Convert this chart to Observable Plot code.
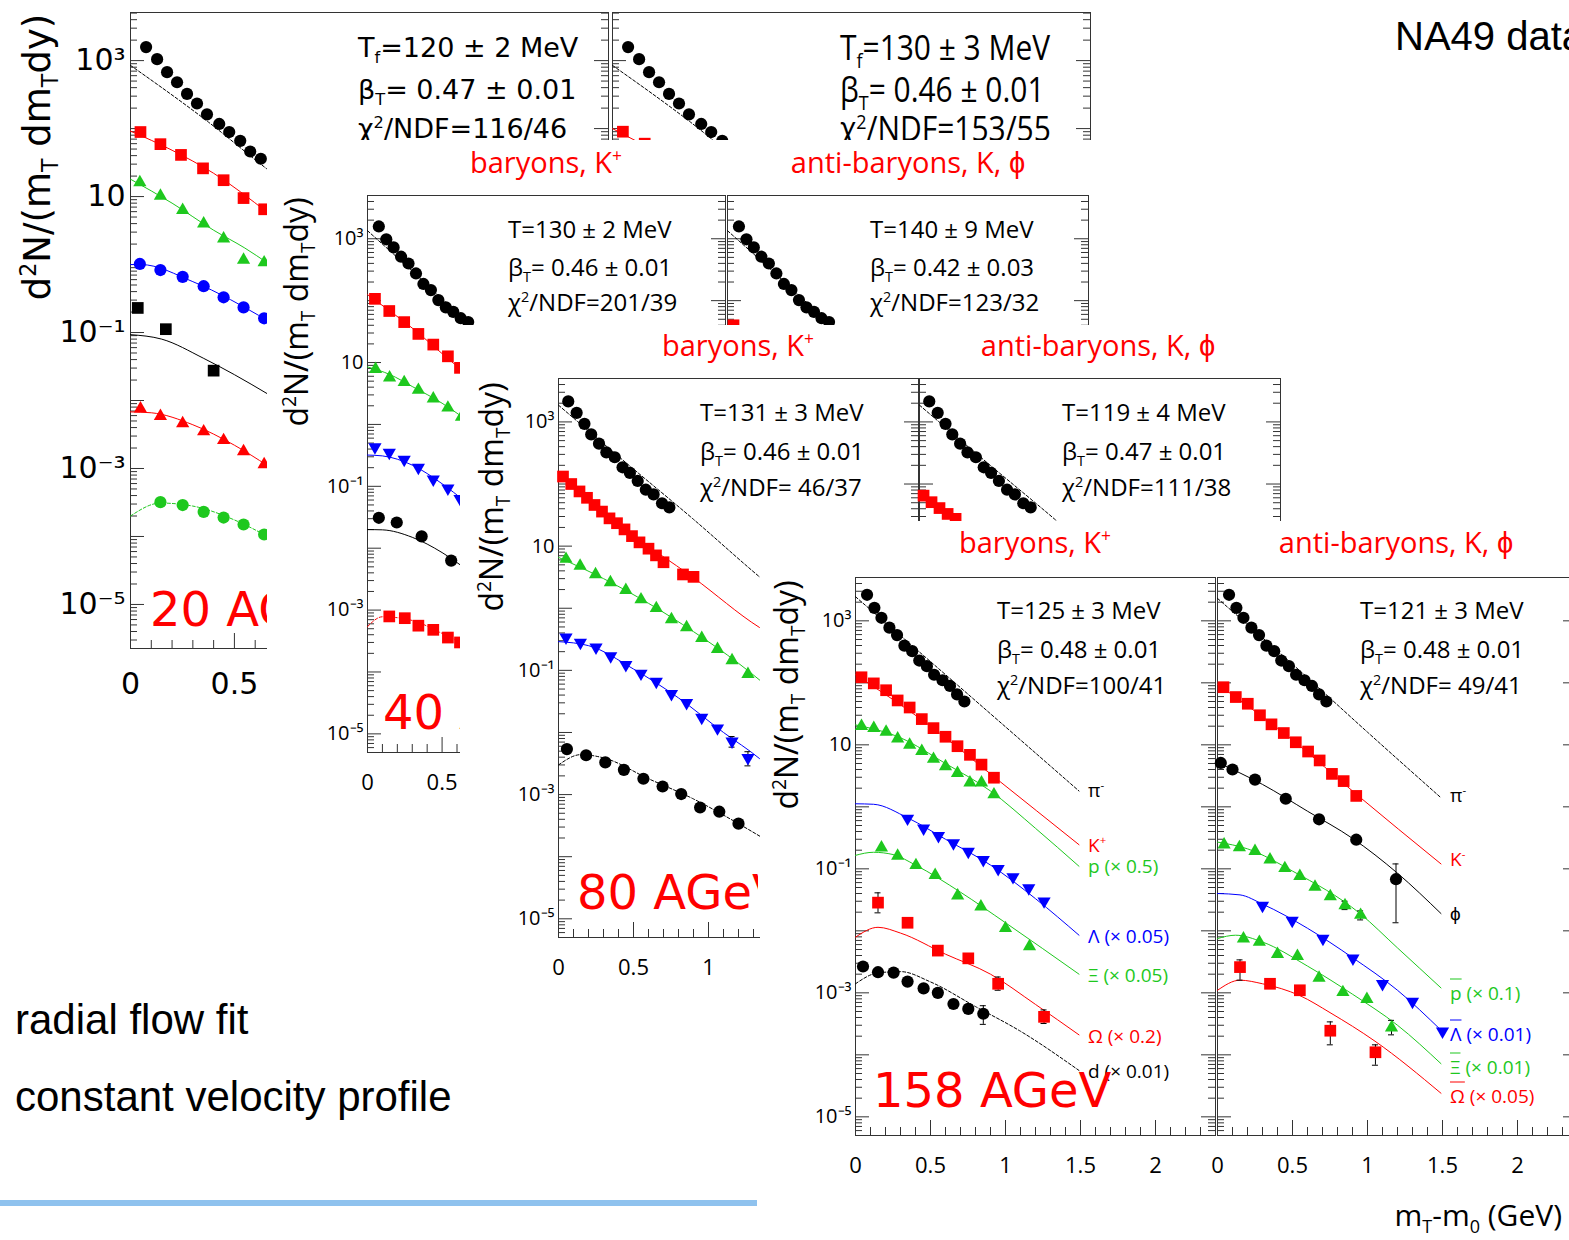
<!DOCTYPE html>
<html><head><meta charset="utf-8">
<script src="https://cdn.jsdelivr.net/npm/d3@7"></script>
<script src="https://cdn.jsdelivr.net/npm/@observablehq/plot@0.6"></script>
<style>
html,body{margin:0;padding:0;background:#fff;}
body{width:1569px;height:1240px;overflow:hidden}
#stage{position:relative;width:1569px;height:1240px;overflow:hidden;background:#fff}
.img{position:absolute;background:#fff;overflow:hidden}
.t{position:absolute;white-space:nowrap;line-height:1}
.t sub,.t sup{font-size:60%;line-height:0}
.ov{text-decoration:overline}
</style></head>
<body><div id="stage"></div>
<script>
// ---------- axis ticks ----------
const xTickValues = [0, 0.5, 1, 1.5, 2];
const xTickLabels = ["0", "0.5", "1", "1.5", "2"];
const yTickValues = [1e3, 10, 1e-1, 1e-3, 1e-5];
const yTickLabels = ["10³", "10", "10⁻¹", "10⁻³", "10⁻⁵"];

// ---------- 20 AGeV ----------
const e20_pim = [[0.075,1580],[0.128,1050],[0.176,676],[0.224,480],[0.272,324],[0.32,234],[0.368,162],[0.427,117],[0.475,89],[0.528,66],[0.576,46],[0.627,36]];
const e20_pimFit = [[0,850],[0.37,128],[0.66,25],[0.8,12]];
const e20_kp = [[0.048,89],[0.144,59],[0.243,41],[0.349,26],[0.448,17.4],[0.544,9.5],[0.643,6.5]];
const e20_kpFit = [[0,92],[0.2,48],[0.4,22],[0.66,5.8]];
const e20_p = [[0.045,16.2],[0.144,10.2],[0.251,6.3],[0.352,4.0],[0.448,2.4],[0.544,1.17],[0.643,1.07]];
const e20_pFit = [[0,18],[0.2,8],[0.4,3.2],[0.55,1.75],[0.66,1.05]];
const e20_bc = [[0.045,1.02],[0.144,0.83],[0.251,0.66],[0.352,0.48],[0.448,0.33],[0.544,0.234],[0.643,0.162]];
const e20_bcFit = [[0,1.0],[0.05,1.0],[0.3,0.56],[0.66,0.15]];
const e20_bs = [[0.035,0.23],[0.17,0.112],[0.40,0.0275]];
const e20_bsFit = [[0,0.093],[0.15,0.08],[0.35,0.042],[0.5,0.024],[0.66,0.0125]];
const e20_rt = [[0.048,0.0076],[0.144,0.0059],[0.251,0.0046],[0.352,0.0035],[0.448,0.0026],[0.544,0.00178],[0.643,0.00115]];
const e20_rtFit = [[0,0.0068],[0.1,0.0066],[0.3,0.0044],[0.5,0.0022],[0.66,0.0011]];
const e20_gc = [[0.144,3.2e-4],[0.251,2.9e-4],[0.352,2.3e-4],[0.448,1.9e-4],[0.544,1.5e-4],[0.643,1.07e-4]];
const e20_gcFit = [[0,2.0e-4],[0.144,3.1e-4],[0.3,2.8e-4],[0.5,1.75e-4],[0.66,1.0e-4]];
const e20_km = [[0.05,90],[0.155,60]];
const e20_kmFit = [[0,100],[0.3,33]];

// ---------- 40 AGeV ----------
const e40_pim = [[0.076,1580],[0.126,980],[0.175,725],[0.225,513],[0.275,398],[0.325,275],[0.375,186],[0.425,148],[0.475,102],[0.525,78],[0.575,66],[0.625,52],[0.675,45]];
const e40_pimFit = [[0,1350],[0.3,300],[0.68,42],[1.0,8.5]];
const e40_kp = [[0.05,107],[0.146,68],[0.246,45],[0.341,29],[0.441,19.5],[0.539,12.6],[0.62,8.2]];
const e40_kpFit = [[0,125],[0.3,36],[0.62,8],[0.8,3.8]];
const e40_p = [[0.054,7.8],[0.148,5.7],[0.246,4.8],[0.341,3.6],[0.441,2.6],[0.539,1.86],[0.63,1.32]];
const e40_pFit = [[0,8.5],[0.15,6.4],[0.3,4.1],[0.5,2.2],[0.65,1.25]];
const e40_lam = [[0.05,0.43],[0.146,0.35],[0.246,0.27],[0.341,0.20],[0.441,0.13],[0.539,0.093],[0.62,0.063]];
const e40_lamFit = [[0,0.32],[0.1,0.31],[0.3,0.22],[0.5,0.11],[0.65,0.058]];
const e40_bc = [[0.076,0.031],[0.196,0.026],[0.363,0.0155],[0.561,0.0063]];
const e40_bcFit = [[0,0.02],[0.1,0.0198],[0.3,0.015],[0.5,0.0085],[0.65,0.0048]];
const e40_rs = [[0.146,7.9e-4],[0.25,7.4e-4],[0.341,5.6e-4],[0.441,4.8e-4],[0.539,3.6e-4],[0.62,3.0e-4]];
const e40_rsFit = [[0,5.4e-4],[0.1,7.8e-4],[0.3,6.8e-4],[0.5,4.2e-4],[0.65,2.8e-4]];
const e40_km = [[0.04,40]];

// ---------- 80 AGeV ----------
const e80_pim = [[0.065,2140],[0.121,1400],[0.173,930],[0.218,630],[0.27,447],[0.319,324],[0.375,270],[0.427,186],[0.476,151],[0.528,112],[0.582,81],[0.634,68],[0.69,49],[0.739,42]];
const e80_pimFit = [[0,1860],[0.45,220],[0.9,27],[1.34,3.2],[1.49,1.6]];
const e80_kp = [[0.03,132],[0.085,100],[0.14,76],[0.19,60],[0.24,46],[0.29,36],[0.34,28],[0.39,23.4],[0.44,18.6],[0.49,14.5],[0.54,11.5],[0.6,9.1],[0.65,7.1],[0.70,5.5],[0.83,3.5],[0.9,3.2]];
const e80_kpFit = [[0,140],[0.45,18],[0.9,3.1],[1.34,0.49],[1.49,0.3]];
const e80_p = [[0.05,6.2],[0.144,4.8],[0.247,3.5],[0.346,2.6],[0.449,1.95],[0.55,1.38],[0.652,1.0],[0.753,0.66],[0.854,0.49],[0.955,0.33],[1.06,0.22],[1.157,0.145],[1.263,0.087]];
const e80_pFit = [[0,6.6],[0.3,3.0],[0.6,1.2],[0.9,0.42],[1.2,0.13],[1.49,0.035]];
const e80_lam = [[0.05,0.34],[0.146,0.28],[0.25,0.235],[0.348,0.17],[0.449,0.123],[0.55,0.089],[0.652,0.066],[0.753,0.042],[0.854,0.030],[0.955,0.0174],[1.06,0.0117],[1.157,0.0072],[1.263,0.0039]];
const e80_lamErr = [[1.157,0.0058,0.0086],[1.263,0.0029,0.0049]];
const e80_lamFit = [[0,0.29],[0.2,0.25],[0.5,0.105],[0.8,0.036],[1.1,0.01],[1.34,0.0038],[1.49,0.0018]];
const e80_bc = [[0.056,0.0054],[0.184,0.0043],[0.312,0.0033],[0.436,0.0025],[0.566,0.0018],[0.694,0.00135],[0.818,0.00102],[0.944,0.00062],[1.072,0.00053],[1.2,0.00034]];
const e80_bcFit = [[0,0.003],[0.15,0.0044],[0.3,0.0039],[0.6,0.0018],[0.9,0.00085],[1.2,0.00034],[1.49,0.00013]];
const e80_km = [[0.027,65],[0.08,51],[0.133,41],[0.187,33],[0.24,27.5]];

// ---------- 158 AGeV ----------
const e158_pim = [[0.077,2630],[0.126,1620],[0.173,1120],[0.226,776],[0.277,589],[0.326,398],[0.378,324],[0.425,229],[0.476,186],[0.524,135],[0.58,110],[0.63,89],[0.677,65],[0.726,50]];
const e158_pimFitL = [[0,2450],[0.5,220],[1.0,19.5],[1.49,1.8]];
const e158_pimFitR = [[0,2300],[0.5,200],[1.0,16],[1.49,1.4]];
const e158_kp = [[0.04,123],[0.122,98],[0.204,76],[0.281,52],[0.361,40],[0.442,26],[0.52,18.6],[0.6,13.5],[0.68,9.5],[0.763,6.9],[0.84,4.8],[0.923,2.95]];
const e158_kpFit = [[0,135],[0.5,20],[0.92,3.1],[1.49,0.245]];
const e158_p = [[0.04,20],[0.122,18.6],[0.204,16.2],[0.281,12.6],[0.361,10],[0.442,7.9],[0.52,5.9],[0.6,4.5],[0.68,3.5],[0.763,2.45],[0.84,2.45],[0.923,1.58]];
const e158_pFit = [[0,21],[0.3,13],[0.6,5],[0.9,1.8],[1.2,0.45],[1.49,0.11]];
const e158_lam = [[0.347,0.65],[0.454,0.45],[0.553,0.34],[0.653,0.26],[0.752,0.19],[0.852,0.14],[0.951,0.10],[1.05,0.074],[1.155,0.049],[1.257,0.030]];
const e158_lamFit = [[0,1.12],[0.12,1.1],[0.35,0.66],[0.6,0.30],[0.9,0.115],[1.2,0.033],[1.49,0.0085]];
const e158_xi = [[0.173,0.22],[0.281,0.162],[0.403,0.114],[0.531,0.079],[0.681,0.037],[0.836,0.0245],[1.0,0.011],[1.16,0.0056]];
const e158_xiFit = [[0,0.165],[0.12,0.185],[0.25,0.17],[0.4,0.115],[0.7,0.042],[1.0,0.0135],[1.49,0.002]];
const e158_om = [[0.15,0.0285],[0.347,0.0135],[0.549,0.0048],[0.752,0.0036],[0.951,0.0014],[1.257,0.00041]];
const e158_omErr = [[0.15,0.0195,0.041],[0.549,0.0041,0.0056],[0.752,0.0031,0.0042],[0.951,0.0011,0.0018],[1.257,0.00032,0.00053]];
const e158_omFit = [[0,0.0079],[0.15,0.0114],[0.3,0.0092],[0.6,0.0042],[0.9,0.002],[1.2,0.00065],[1.49,0.00021]];
const e158_d = [[0.05,0.00266],[0.15,0.00215],[0.254,0.00212],[0.347,0.00152],[0.454,0.00118],[0.549,0.001],[0.653,0.00066],[0.752,0.00055],[0.852,0.00046]];
const e158_dErr = [[0.653,0.00057,0.00076],[0.752,0.00047,0.00064],[0.852,0.00031,0.00062]];
const e158_dFit = [[0,0.0014],[0.15,0.0021],[0.3,0.0022],[0.5,0.0015],[0.8,0.0006],[1.1,0.00024],[1.49,5.6e-5]];
const e158_km = [[0.04,85],[0.122,59],[0.202,46],[0.283,30],[0.36,21.4],[0.442,15.5],[0.522,11],[0.604,7.8],[0.681,5.6],[0.763,3.4],[0.841,2.6],[0.925,1.5]];
const e158_kmFit = [[0,95],[0.5,12],[0.925,1.6],[1.49,0.12]];
const e158_phi = [[0.022,5.1],[0.1,4.0],[0.25,2.75],[0.455,1.35],[0.677,0.63],[0.925,0.295],[1.19,0.068]];
const e158_phiErr = [[1.19,0.0135,0.12]];
const e158_phiFit = [[0,5.2],[0.3,2.3],[0.6,0.85],[0.9,0.31],[1.2,0.085],[1.49,0.019]];
const e158_pbar = [[0.044,0.245],[0.146,0.221],[0.25,0.193],[0.35,0.141],[0.449,0.102],[0.549,0.076],[0.65,0.051],[0.752,0.036],[0.85,0.0257],[0.954,0.018]];
const e158_pbarErr = [[0.85,0.022,0.03],[0.954,0.015,0.021]];
const e158_pbarFit = [[0,0.27],[0.2,0.21],[0.5,0.092],[0.95,0.019],[1.2,0.0053],[1.49,0.0012]];
const e158_lbar = [[0.30,0.0255],[0.498,0.0146],[0.703,0.0075],[0.903,0.0036],[1.10,0.0014],[1.30,0.00072],[1.50,0.00024]];
const e158_lbarFit = [[0,0.04],[0.15,0.038],[0.3,0.027],[0.6,0.011],[0.9,0.0037],[1.2,0.0011],[1.49,0.00025]];
const e158_xbar = [[0.173,0.0075],[0.279,0.0066],[0.40,0.0042],[0.533,0.0039],[0.677,0.00174],[0.836,0.00102],[0.996,0.00079],[1.16,0.000275]];
const e158_xbarErr = [[1.16,0.00021,0.00036]];
const e158_xbarFit = [[0,0.0075],[0.12,0.0085],[0.3,0.0066],[0.6,0.0027],[0.9,0.00095],[1.2,0.0003],[1.49,7.2e-5]];
const e158_obar = [[0.15,0.0026],[0.35,0.0014],[0.549,0.0011],[0.752,0.000245],[1.053,0.00011]];
const e158_obarErr = [[0.15,0.0016,0.0034],[0.35,0.0013,0.0015],[0.752,0.000145,0.00034],[1.053,0.000068,0.000145]];
const e158_obarFit = [[0,0.0011],[0.15,0.0016],[0.3,0.0014],[0.55,0.0009],[0.75,0.00048],[1.05,0.000166],[1.49,2.4e-5]];

// ---------- drawing ----------
const RED = "#ff0000", GREEN = "#1ec81e", BLUE = "#0000ff", BLACK = "#000000";
const triDown = { draw(ctx, size) { const y = -Math.sqrt(size / (Math.sqrt(3) * 3)); ctx.moveTo(0, -y * 2); ctx.lineTo(-Math.sqrt(3) * y, y); ctx.lineTo(Math.sqrt(3) * y, y); ctx.closePath(); } };
const RS = {circle: 6.1, square: 6.6, triangle: 4.9, down: 4.9};
const stage = document.getElementById("stage");
const OS = "'Open Sans', sans-serif", DV = "'DejaVu Sans', sans-serif", LS = "'Liberation Sans', Arial, sans-serif";

function mkBox(x, y, x2, y2, cls) {
  const el = document.createElement("div");
  if (cls) el.className = cls;
  el.style.cssText += `position:absolute;left:${x}px;top:${y}px;width:${x2 - x}px;height:${y2 - y}px;`;
  stage.appendChild(el);
  return {el, x, y};
}
function txt(bx, html, x, y, css, ax = 0, ay = 0.5, extra = "") {
  const el = document.createElement("div");
  el.className = "t";
  el.innerHTML = html;
  el.style.cssText += `left:${x - bx.x}px;top:${y - bx.y}px;${css};transform:translate(${-ax * 100}%,${-ay * 100}%) ${extra};`;
  bx.el.appendChild(el);
  return el;
}
// text cut at a right edge (the next image lies over it)
function clipTxt(bx, html, x, y, xr, css) {
  const el = txt(bx, html, x, y, css + `;width:${xr - x}px;overflow:hidden;line-height:1.2`);
  return el;
}
function subpanel(bx, o) {
  const mT = 10, mR = 10;
  const {L, T, W, H, xmax, ydom, mL, mB} = o;
  const marks = [];
  const xi = d3.range(0, Math.round(xmax * 10) + 1);
  const xMaj = xi.filter(i => i % 5 === 0).map(i => i / 10);
  const xMin = xi.filter(i => i % 5 !== 0).map(i => i / 10);
  const yMaj = [], yMin = [];
  for (let e = -7; e <= 4; e++) for (let m = 1; m <= 9; m++) {
    const v = m * Math.pow(10, e);
    if (v >= ydom[0] && v <= ydom[1]) (m === 1 ? yMaj : yMin).push(v);
  }
  const tk = {stroke: "#333", strokeWidth: 1};
  marks.push(
    Plot.ruleX(xMin, {x: d => d, insetTop: H - 8, ...tk}),
    Plot.ruleX(xMaj, {x: d => d, insetTop: H - 15, ...tk}),
    Plot.ruleY(yMin, {y: d => d, insetRight: W - 7, ...tk}),
    Plot.ruleY(yMaj, {y: d => d, insetRight: W - 14, ...tk}),
    Plot.ruleY(yMin, {y: d => d, insetLeft: W - 7, ...tk}),
    Plot.ruleY(yMaj, {y: d => d, insetLeft: W - 14, ...tk}),
    Plot.frame({stroke: "#333", strokeWidth: 1})
  );
  for (const s of o.series) if (s.f) marks.push(Plot.line(s.f, {x: d => d[0], y: d => d[1], stroke: s.c, strokeWidth: 1, strokeDasharray: s.dash ? "3,2" : undefined, curve: "monotone-x"}));
  for (const s of o.series) if (s.e) {
    marks.push(Plot.ruleX(s.e, {x: d => d[0], y1: d => d[1], y2: d => d[2], stroke: "#000", strokeWidth: 1}));
    const caps = s.e.flatMap(d => [[d[0], d[1]], [d[0], d[2]]]);
    marks.push(Plot.ruleY(caps, {y: d => d[1], x1: d => d[0] - 0.02, x2: d => d[0] + 0.02, stroke: "#000", strokeWidth: 1}));
  }
  for (const s of o.series) if (s.d) marks.push(Plot.dot(s.d, {x: d => d[0], y: d => d[1], symbol: s.s === "down" ? triDown : s.s, r: RS[s.s], fill: s.c, stroke: "none"}));
  if (o.xl) marks.push(Plot.axisX({ticks: xTickValues.filter(v => v <= (o.xlmax ?? xmax)), tickFormat: d => xTickLabels[xTickValues.indexOf(d)], tickSize: 0, tickPadding: o.xpad, fontSize: o.fsx, label: null}));
  if (o.yl) marks.push(Plot.axisY({ticks: yTickValues, tickFormat: d => yTickLabels[yTickValues.indexOf(d)], tickSize: 0, tickPadding: o.ypad, fontSize: o.fsy, label: null}));
  const svg = Plot.plot({
    width: mL + W + mR, height: mT + H + mB,
    marginLeft: mL, marginRight: mR, marginTop: mT, marginBottom: mB,
    x: {domain: [0, xmax], axis: null},
    y: {type: "log", domain: ydom, axis: null},
    style: {fontFamily: o.ff, overflow: "visible", background: "transparent", color: "#000", maxWidth: "none"},
    marks
  });
  svg.style.position = "absolute";
  svg.style.left = (L - mL - bx.x) + "px";
  svg.style.top = (T - mT - bx.y) + "px";
  bx.el.appendChild(svg);
}

// ---------- slide-level content ----------
const slide = {el: stage, x: 0, y: 0};
txt(slide, "NA49 data", 1395, 36, `font-family:${LS};font-size:40px;color:#000`);
txt(slide, "radial flow fit", 15, 1020, `font-family:${LS};font-size:42px;color:#000`);
txt(slide, "constant velocity profile", 15, 1097, `font-family:${LS};font-size:42px;color:#000`);
{ const ln = document.createElement("div"); ln.style.cssText = "position:absolute;left:0;top:1200px;width:757px;height:6px;background:#8fc2ee"; stage.appendChild(ln); }

const YT = "d<sup>2</sup>N/(m<sub>T</sub> dm<sub>T</sub>dy)";
const lab = (c) => `font-family:${OS};font-size:29px;color:${c}`;
const ann = `font-family:${OS};font-size:24px;color:#000`;
const big = `font-family:${DV};font-size:48px;color:${RED}`;

// ---------- 20 AGeV image ----------
const b20 = mkBox(0, 0, 1092, 870, "img");
const ydom20 = [2.25e-6, 5.1e3];
subpanel(b20, {L: 130, T: 12, W: 478, H: 636, xmax: 2.3, ydom: ydom20, mL: 130, mB: 70, xl: true, xlmax: 0.6, yl: true, xpad: 24, ypad: 5, fsx: 30, fsy: 30, ff: DV, series: [
  {d: e20_pim, f: e20_pimFit, c: BLACK, s: "circle", dash: true},
  {d: e20_kp, f: e20_kpFit, c: RED, s: "square"},
  {d: e20_p, f: e20_pFit, c: GREEN, s: "triangle"},
  {d: e20_bc, f: e20_bcFit, c: BLUE, s: "circle"},
  {d: e20_bs, f: e20_bsFit, c: BLACK, s: "square"},
  {d: e20_rt, f: e20_rtFit, c: RED, s: "triangle"},
  {d: e20_gc, f: e20_gcFit, c: GREEN, s: "circle", dash: true}
]});
subpanel(b20, {L: 612, T: 12, W: 478, H: 636, xmax: 2.3, ydom: ydom20, mL: 10, mB: 10, series: [
  {d: e20_pim, f: e20_pimFit, c: BLACK, s: "circle", dash: true},
  {d: e20_km, f: e20_kmFit, c: RED, s: "square"}
]});
txt(b20, YT, 37, 157, `font-family:${DV};font-size:37px;color:#000`, 0.5, 0.5, "rotate(-90deg)");
txt(b20, "T<sub>f</sub>=120 ± 2 MeV", 358, 47, `font-family:${DV};font-size:27px`);
txt(b20, "β<sub>T</sub>= 0.47 ± 0.01", 358, 89, `font-family:${DV};font-size:27px`);
txt(b20, "χ<sup>2</sup>/NDF=116/46", 358, 128, `font-family:${DV};font-size:27px`);
const cond = `font-family:${OS};font-size:34px;transform-origin:0 50%`;
txt(b20, "T<sub>f</sub>=130 ± 3 MeV", 840, 47, cond, 0, 0.5, "scaleX(0.88)");
txt(b20, "β<sub>T</sub>= 0.46 ± 0.01", 840, 89, cond, 0, 0.5, "scaleX(0.88)");
txt(b20, "χ<sup>2</sup>/NDF=153/55", 840, 128, cond, 0, 0.5, "scaleX(0.88)");
clipTxt(b20, "20 AGeV", 150, 610, 267, big);

// ---------- 40 AGeV image ----------
const b40 = mkBox(267, 140, 1092, 865, "img");
const ydom = [5e-6, 5e3];
subpanel(b40, {L: 367, T: 195, W: 358, H: 557, xmax: 2.4, ydom, mL: 60, mB: 50, xl: true, xlmax: 0.6, yl: true, xpad: 22, ypad: 4, fsx: 22, fsy: 20, ff: OS, series: [
  {d: e40_pim, f: e40_pimFit, c: BLACK, s: "circle", dash: true},
  {d: e40_kp, f: e40_kpFit, c: RED, s: "square"},
  {d: e40_p, f: e40_pFit, c: GREEN, s: "triangle"},
  {d: e40_lam, f: e40_lamFit, c: BLUE, s: "down"},
  {d: e40_bc, f: e40_bcFit, c: BLACK, s: "circle"},
  {d: e40_rs, f: e40_rsFit, c: RED, s: "square", dash: true}
]});
subpanel(b40, {L: 727, T: 195, W: 361, H: 557, xmax: 2.4, ydom, mL: 10, mB: 10, series: [
  {d: e40_pim, f: e40_pimFit, c: BLACK, s: "circle", dash: true},
  {d: e40_km, c: RED, s: "square"}
]});
txt(b40, YT, 296, 312, `font-family:${OS};font-size:32px;color:#000`, 0.5, 0.5, "rotate(-90deg)");
txt(b40, "baryons, K<sup>+</sup>", 546, 161, lab(RED), 0.5);
txt(b40, "anti-baryons, K, ϕ", 908, 161, lab(RED), 0.5);
txt(b40, "T=130 ± 2 MeV", 508, 229, ann);
txt(b40, "β<sub>T</sub>= 0.46 ± 0.01", 508, 267, ann);
txt(b40, "χ<sup>2</sup>/NDF=201/39", 508, 302, ann);
txt(b40, "T=140 ± 9 MeV", 870, 229, ann);
txt(b40, "β<sub>T</sub>= 0.42 ± 0.03", 870, 267, ann);
txt(b40, "χ<sup>2</sup>/NDF=123/32", 870, 302, ann);
clipTxt(b40, "40 AGeV", 383, 713, 460, big);

// ---------- 80 AGeV image ----------
const b80 = mkBox(460, 325, 1284, 1000, "img");
subpanel(b80, {L: 558, T: 378, W: 360, H: 559, xmax: 2.4, ydom, mL: 60, mB: 50, xl: true, xlmax: 1.2, yl: true, xpad: 22, ypad: 4, fsx: 22, fsy: 20, ff: OS, series: [
  {d: e80_pim, f: e80_pimFit, c: BLACK, s: "circle", dash: true},
  {d: e80_kp, f: e80_kpFit, c: RED, s: "square"},
  {d: e80_p, f: e80_pFit, c: GREEN, s: "triangle"},
  {d: e80_lam, f: e80_lamFit, c: BLUE, s: "down", e: e80_lamErr},
  {d: e80_bc, f: e80_bcFit, c: BLACK, s: "circle", dash: true}
]});
subpanel(b80, {L: 919, T: 378, W: 361, H: 559, xmax: 2.4, ydom, mL: 10, mB: 10, series: [
  {d: e80_pim, f: e80_pimFit, c: BLACK, s: "circle", dash: true},
  {d: e80_km, c: RED, s: "square"}
]});
txt(b80, YT, 491, 497, `font-family:${OS};font-size:32px;color:#000`, 0.5, 0.5, "rotate(-90deg)");
txt(b80, "baryons, K<sup>+</sup>", 738, 344, lab(RED), 0.5);
txt(b80, "anti-baryons, K, ϕ", 1098, 344, lab(RED), 0.5);
txt(b80, "T=131 ± 3 MeV", 700, 412, ann);
txt(b80, "β<sub>T</sub>= 0.46 ± 0.01", 700, 451, ann);
txt(b80, "χ<sup>2</sup>/NDF= 46/37", 700, 487, ann);
txt(b80, "T=119 ± 4 MeV", 1062, 412, ann);
txt(b80, "β<sub>T</sub>= 0.47 ± 0.01", 1062, 451, ann);
txt(b80, "χ<sup>2</sup>/NDF=111/38", 1062, 487, ann);
clipTxt(b80, "80 AGeV", 577, 893, 758, big);

// ---------- 158 AGeV image ----------
const b158 = mkBox(760, 521, 1569, 1240, "img");
subpanel(b158, {L: 855, T: 577, W: 360, H: 558, xmax: 2.4, ydom, mL: 60, mB: 50, xl: true, yl: true, xpad: 22, ypad: 4, fsx: 22, fsy: 20, ff: OS, series: [
  {d: e158_pim, f: e158_pimFitL, c: BLACK, s: "circle", dash: true},
  {d: e158_kp, f: e158_kpFit, c: RED, s: "square"},
  {d: e158_p, f: e158_pFit, c: GREEN, s: "triangle"},
  {d: e158_lam, f: e158_lamFit, c: BLUE, s: "down"},
  {d: e158_xi, f: e158_xiFit, c: GREEN, s: "triangle"},
  {d: e158_om, f: e158_omFit, c: RED, s: "square", e: e158_omErr},
  {d: e158_d, f: e158_dFit, c: BLACK, s: "circle", dash: true, e: e158_dErr}
]});
subpanel(b158, {L: 1217, T: 577, W: 360, H: 558, xmax: 2.4, ydom, mL: 10, mB: 50, xl: true, xpad: 22, fsx: 22, ff: OS, series: [
  {d: e158_pim, f: e158_pimFitR, c: BLACK, s: "circle", dash: true},
  {d: e158_km, f: e158_kmFit, c: RED, s: "square"},
  {d: e158_phi, f: e158_phiFit, c: BLACK, s: "circle", e: e158_phiErr},
  {d: e158_pbar, f: e158_pbarFit, c: GREEN, s: "triangle", e: e158_pbarErr},
  {d: e158_lbar, f: e158_lbarFit, c: BLUE, s: "down"},
  {d: e158_xbar, f: e158_xbarFit, c: GREEN, s: "triangle", e: e158_xbarErr},
  {d: e158_obar, f: e158_obarFit, c: RED, s: "square", e: e158_obarErr}
]});
txt(b158, YT, 786, 695, `font-family:${OS};font-size:32px;color:#000`, 0.5, 0.5, "rotate(-90deg)");
txt(b158, "baryons, K<sup>+</sup>", 1035, 541, lab(RED), 0.5);
txt(b158, "anti-baryons, K, ϕ", 1396, 541, lab(RED), 0.5);
txt(b158, "T=125 ± 3 MeV", 997, 610, ann);
txt(b158, "β<sub>T</sub>= 0.48 ± 0.01", 997, 649, ann);
txt(b158, "χ<sup>2</sup>/NDF=100/41", 997, 685, ann);
txt(b158, "T=121 ± 3 MeV", 1360, 610, ann);
txt(b158, "β<sub>T</sub>= 0.48 ± 0.01", 1360, 649, ann);
txt(b158, "χ<sup>2</sup>/NDF= 49/41", 1360, 685, ann);
const sp = (c) => `font-family:${OS};font-size:19px;color:${c}`;
txt(b158, "π<sup>-</sup>", 1088, 790, sp(BLACK));
txt(b158, "K<sup>+</sup>", 1088, 845, sp(RED));
txt(b158, "p (× 0.5)", 1088, 866, sp(GREEN));
txt(b158, "Λ (× 0.05)", 1088, 936, sp(BLUE));
txt(b158, "Ξ (× 0.05)", 1088, 975, sp(GREEN));
txt(b158, "Ω (× 0.2)", 1088, 1036, sp(RED));
txt(b158, "d (× 0.01)", 1088, 1071, sp(BLACK));
txt(b158, "π<sup>-</sup>", 1450, 795, sp(BLACK));
txt(b158, "K<sup>-</sup>", 1450, 859, sp(RED));
txt(b158, "ϕ", 1450, 913, sp(BLACK));
txt(b158, "<span class='ov'>p</span> (× 0.1)", 1450, 993, sp(GREEN));
txt(b158, "<span class='ov'>Λ</span> (× 0.01)", 1450, 1034, sp(BLUE));
txt(b158, "<span class='ov'>Ξ</span> (× 0.01)", 1450, 1067, sp(GREEN));
txt(b158, "<span class='ov'>Ω</span> (× 0.05)", 1450, 1096, sp(RED));
txt(b158, "158 AGeV", 873, 1090, big);
txt(b158, "m<sub>T</sub>-m<sub>0</sub> (GeV)", 1562, 1215, `font-family:${OS};font-size:30px;color:#000`, 1);
</script></body></html>
